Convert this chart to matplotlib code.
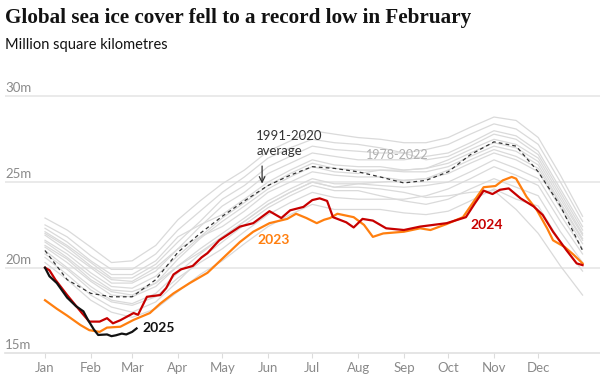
import matplotlib
matplotlib.use('Agg')
import matplotlib.pyplot as plt

# days since 1 Jan, values in million km2
grey_days = [0, 15, 31, 45, 59, 75, 90, 105, 120, 135, 151, 166, 181, 196, 212, 227, 243, 258, 273, 288, 304, 319, 334, 349, 364]

# 1978-2022 yearly lines
grey_lines = [
    [22.9, 22.2, 21.2, 20.3, 20.4, 21.3, 22.8, 23.9, 24.9, 25.7, 26.8, 27.4, 28.0, 27.8, 27.6, 27.5, 27.3, 27.3, 27.6, 28.2, 28.8, 28.6, 27.6, 25.4, 23.0],
    [20.3, 19.3, 18.1, 17.4, 17.1, 17.6, 18.6, 19.6, 20.4, 21.4, 22.4, 23.1, 23.7, 23.4, 23.4, 23.4, 23.2, 23.1, 23.3, 23.9, 24.6, 24.0, 23.6, 21.5, 19.8],
    [22.5, 21.8, 20.7, 19.9, 19.9, 20.8, 22.2, 23.3, 24.4, 25.3, 26.4, 27.0, 27.5, 27.3, 27.2, 27.0, 26.7, 26.3, 26.5, 27.1, 27.8, 27.5, 26.6, 24.4, 22.2],
    [22.1, 21.3, 20.3, 19.4, 19.4, 20.2, 21.5, 22.7, 24.0, 24.8, 25.9, 26.5, 27.1, 26.9, 26.8, 26.7, 26.7, 26.9, 27.2, 27.8, 28.4, 28.1, 27.2, 25.0, 22.7],
    [22.3, 21.5, 20.4, 19.6, 19.6, 20.4, 21.8, 22.5, 23.1, 24.0, 25.0, 25.7, 26.3, 26.0, 25.9, 25.9, 25.7, 25.8, 26.1, 26.7, 27.3, 27.0, 26.2, 24.0, 21.9],
    [21.9, 21.0, 20.0, 19.1, 19.1, 19.8, 21.1, 22.4, 23.6, 24.4, 25.5, 26.1, 26.7, 26.5, 26.3, 26.3, 26.3, 26.5, 26.7, 27.3, 28.0, 27.7, 26.8, 24.6, 22.4],
    [21.6, 20.8, 19.7, 18.9, 18.8, 19.5, 20.7, 21.8, 22.9, 23.8, 24.8, 25.5, 26.1, 25.8, 25.7, 25.7, 25.6, 25.6, 25.9, 26.5, 27.1, 26.8, 26.0, 23.8, 21.7],
    [22.0, 21.2, 20.1, 19.3, 19.2, 20.0, 21.1, 21.8, 22.4, 23.3, 24.4, 25.0, 25.6, 25.4, 25.3, 25.3, 25.1, 25.2, 25.5, 26.1, 26.7, 26.3, 25.6, 23.5, 21.4],
    [21.3, 20.5, 19.3, 18.6, 18.4, 19.1, 20.5, 21.7, 22.7, 23.6, 24.6, 25.3, 25.9, 25.6, 25.5, 25.7, 25.7, 25.8, 26.3, 26.9, 27.5, 27.2, 26.4, 24.2, 22.0],
    [21.2, 20.3, 19.2, 18.4, 18.3, 18.9, 20.1, 21.1, 22.0, 22.9, 23.9, 24.6, 25.2, 24.9, 24.9, 24.8, 24.7, 24.8, 25.0, 25.6, 26.3, 25.8, 25.2, 23.1, 21.1],
    [21.0, 20.0, 18.9, 18.1, 17.9, 18.5, 19.7, 20.8, 21.8, 22.7, 23.7, 24.4, 25.0, 24.7, 24.9, 25.0, 25.1, 25.2, 25.7, 26.3, 26.9, 26.5, 25.8, 23.7, 21.6],
    [20.8, 19.9, 18.7, 18.0, 17.8, 18.3, 19.4, 20.3, 21.1, 22.1, 23.1, 23.8, 24.4, 24.1, 24.0, 24.0, 24.0, 24.2, 24.6, 25.2, 25.9, 25.4, 24.8, 22.7, 20.8],
    [20.6, 19.6, 18.4, 17.7, 17.4, 18.0, 19.2, 20.5, 21.5, 22.5, 23.5, 24.2, 24.8, 24.5, 24.5, 24.2, 23.9, 23.7, 24.0, 24.6, 25.2, 24.7, 24.2, 22.1, 20.3],
    [21.5, 20.6, 19.5, 18.7, 18.6, 19.1, 20.1, 20.9, 21.8, 22.7, 23.7, 24.4, 25.0, 24.7, 24.7, 24.6, 24.4, 24.1, 24.2, 24.4, 24.5, 23.4, 22.0, 20.1, 18.4],
]

avg_1991_2020 = [21.0, 19.3, 18.5, 18.3, 18.3, 19.3, 20.9, 22.0, 23.0, 23.9, 24.8, 25.4, 25.9, 25.8, 25.6, 25.3, 24.95, 25.1, 25.6, 26.6, 27.35, 27.1, 25.6, 23.6, 21.0]

days_2023 = [0, 8, 15, 24, 30, 37, 42, 51, 60, 71, 78, 87, 98, 110, 121, 132, 141, 152, 164, 170, 177, 184, 189, 193, 198, 209, 216, 222, 229, 243, 254, 261, 272, 283, 291, 297, 305, 310, 316, 319, 326, 333, 340, 344, 352, 358, 364]
ice_2023 = [18.1, 17.6, 17.2, 16.65, 16.35, 16.25, 16.5, 16.55, 16.95, 17.35, 17.9, 18.5, 19.1, 19.7, 20.6, 21.5, 22.1, 22.6, 22.85, 23.15, 22.9, 22.6, 22.8, 22.9, 23.15, 22.95, 22.5, 21.8, 22.0, 22.1, 22.3, 22.2, 22.55, 22.95, 23.95, 24.7, 24.77, 25.1, 25.3, 25.2, 24.15, 23.37, 22.3, 21.6, 21.2, 20.75, 20.25]

days_2024 = [0, 3, 7, 15, 25, 30, 37, 42, 46, 51, 60, 63, 69, 78, 82, 87, 92, 100, 106, 110, 118, 125, 132, 141, 152, 160, 166, 175, 181, 186, 191, 195, 204, 209, 215, 222, 231, 243, 254, 263, 272, 285, 291, 297, 303, 308, 314, 322, 331, 337, 344, 353, 360, 364]
ice_2024 = [20.0, 19.85, 19.3, 18.4, 17.35, 16.85, 16.85, 17.05, 16.75, 16.93, 17.35, 17.25, 18.3, 18.4, 18.8, 19.6, 19.9, 20.1, 20.6, 20.85, 21.6, 22.0, 22.4, 22.6, 23.3, 22.9, 23.35, 23.55, 23.95, 24.05, 23.9, 22.95, 22.65, 22.35, 22.85, 22.75, 22.3, 22.2, 22.4, 22.5, 22.6, 22.95, 23.75, 24.5, 24.3, 24.55, 24.63, 24.05, 23.57, 23.08, 22.1, 21.03, 20.25, 20.15]

days_2025 = [0, 3, 8, 15, 21, 26, 29, 33, 36, 42, 45, 48, 52, 55, 59, 62]
ice_2025 = [20.0, 19.5, 19.1, 18.25, 17.75, 17.45, 16.96, 16.4, 16.07, 16.1, 16.0, 16.05, 16.15, 16.1, 16.25, 16.45]

month_days = [0, 31, 59, 90, 120, 151, 181, 212, 243, 273, 304, 334]
month_labels = ['Jan', 'Feb', 'Mar', 'Apr', 'May', 'Jun', 'Jul', 'Aug', 'Sep', 'Oct', 'Nov', 'Dec']
y_ticks = [15, 20, 25, 30]

plt.rcParams['font.family'] = ['Lato', 'DejaVu Sans']

fig = plt.figure(figsize=(6, 3.83), dpi=100)
ax = fig.add_axes([0.0083, 0.0776, 0.9917, 0.6973])

for line in grey_lines:
    ax.plot(grey_days, line, color='#dadada', lw=0.9, zorder=1)

ax.plot(grey_days, avg_1991_2020, color='#333333', lw=0.9, ls=(0, (3, 2.5)), zorder=3)
ax.plot(days_2023, ice_2023, color='#ff7f0f', lw=1.6, zorder=4)
ax.plot(days_2024, ice_2024, color='#c70000', lw=1.6, zorder=5)
ax.plot(days_2025, ice_2025, color='#121212', lw=1.6, zorder=6)

ax.set_xlim(-27.1, 375.8)
ax.set_ylim(15, 30.6)

for y in y_ticks[1:]:
    ax.axhline(y, color='#e6e6e6', lw=1.2, zorder=0)
for y in y_ticks:
    ax.text(-27, y + 0.12, f'{y}m', color='#8a8a8a', fontsize=9.5, va='bottom', ha='left')

for s in ['top', 'right', 'left']:
    ax.spines[s].set_visible(False)
ax.spines['bottom'].set_color('#e0e0e0')
ax.spines['bottom'].set_linewidth(1.2)
ax.set_yticks([])
ax.set_xticks(month_days)
ax.set_xticklabels(month_labels)
ax.tick_params(axis='x', length=3.5, color='#dcdcdc', labelcolor='#8a8a8a', labelsize=9.5, pad=3)

# labels
ax.text(66, 16.5, '2025', color='#121212', fontsize=10, fontweight='bold', va='center')
ax.text(144, 21.6, '2023', color='#ff7f0f', fontsize=10, fontweight='bold', va='center')
ax.text(288, 22.5, '2024', color='#c70000', fontsize=10, fontweight='bold', va='center')
ax.text(217, 26.6, '1978-2022', color='#b0b0b0', fontsize=9, va='center')
ax.text(143, 27.25, '1991-2020\naverage', color='#333333', fontsize=9.5, va='center', linespacing=1.3)
ax.annotate('', xy=(147, 24.75), xytext=(147, 26.1),
            arrowprops=dict(arrowstyle='->', color='#333333', lw=0.9))

fig.text(0.0083, 0.953, 'Global sea ice cover fell to a record low in February',
         fontsize=15.2, fontweight='bold', family='Liberation Serif', color='#121212', va='center')
fig.text(0.0083, 0.882, 'Million square kilometres', fontsize=10.5, color='#121212', va='center')

fig.savefig('out.png', dpi=100)
